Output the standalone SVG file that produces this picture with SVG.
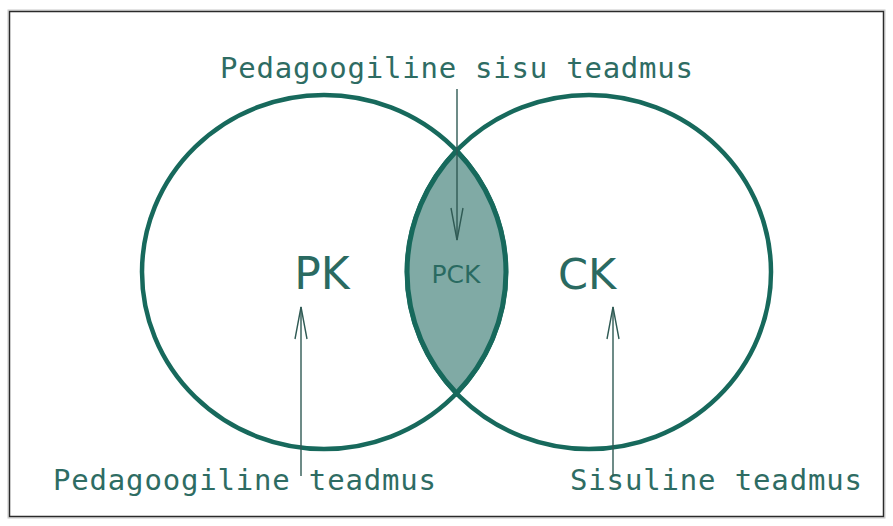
<svg xmlns="http://www.w3.org/2000/svg" width="893" height="526" viewBox="0 0 893 526">
<style>
.circ{fill:none;stroke:#17695c;stroke-width:4.5}
.lens{fill:#80aaa5;stroke:#17695c;stroke-width:5}
.lbl{font-family:"DejaVu Sans Mono","Liberation Mono",monospace;font-size:29px;fill:#2e6c63}
.big{font-family:"DejaVu Sans","Verdana",sans-serif;fill:#2a6a61;text-anchor:middle}
.conn{stroke:#2f5a54;stroke-width:1.4;fill:none}
</style>
<defs>
<marker id="open" viewBox="0 0 34 14" refX="33" refY="7" markerWidth="34" markerHeight="14" markerUnits="userSpaceOnUse" orient="auto">
<path d="M1,1 L33,7 L1,13" fill="none" stroke="#2f5a54" stroke-width="1.4"/>
</marker>
</defs>
<rect x="0" y="0" width="893" height="526" fill="#ffffff"/>
<rect x="8" y="10" width="877" height="508" fill="none" stroke="#c8c8c8" stroke-width="1"/>
<rect x="9.5" y="11.5" width="874" height="505" fill="none" stroke="#2a2a2a" stroke-width="1.5"/>
<g id="pk">
<ellipse class="circ" cx="324" cy="272" rx="182" ry="177"/>
<text class="big" x="322" y="289" font-size="44">PK</text>
</g>
<g id="ck">
<ellipse class="circ" cx="589" cy="272" rx="182" ry="177"/>
<text class="big" x="587" y="289" font-size="43">CK</text>
</g>
<g id="pck">
<path class="lens" d="M456.5,150.7 A182,177 0 0 1 456.5,393.3 A182,177 0 0 1 456.5,150.7 Z"/>
<text class="big" x="456" y="283" font-size="25">PCK</text>
</g>
<g id="labels">
<text class="lbl" x="220" y="78" textLength="473">Pedagoogiline sisu teadmus</text>
<text class="lbl" x="53" y="490" textLength="383">Pedagoogiline teadmus</text>
<text class="lbl" x="570" y="490" textLength="292">Sisuline teadmus</text>
</g>
<g id="connectors">
<line class="conn" x1="457" y1="89" x2="457" y2="240" marker-end="url(#open)"/>
<line class="conn" x1="301" y1="476" x2="301" y2="307" marker-end="url(#open)"/>
<line class="conn" x1="613" y1="476" x2="613" y2="307" marker-end="url(#open)"/>
</g>
</svg>
